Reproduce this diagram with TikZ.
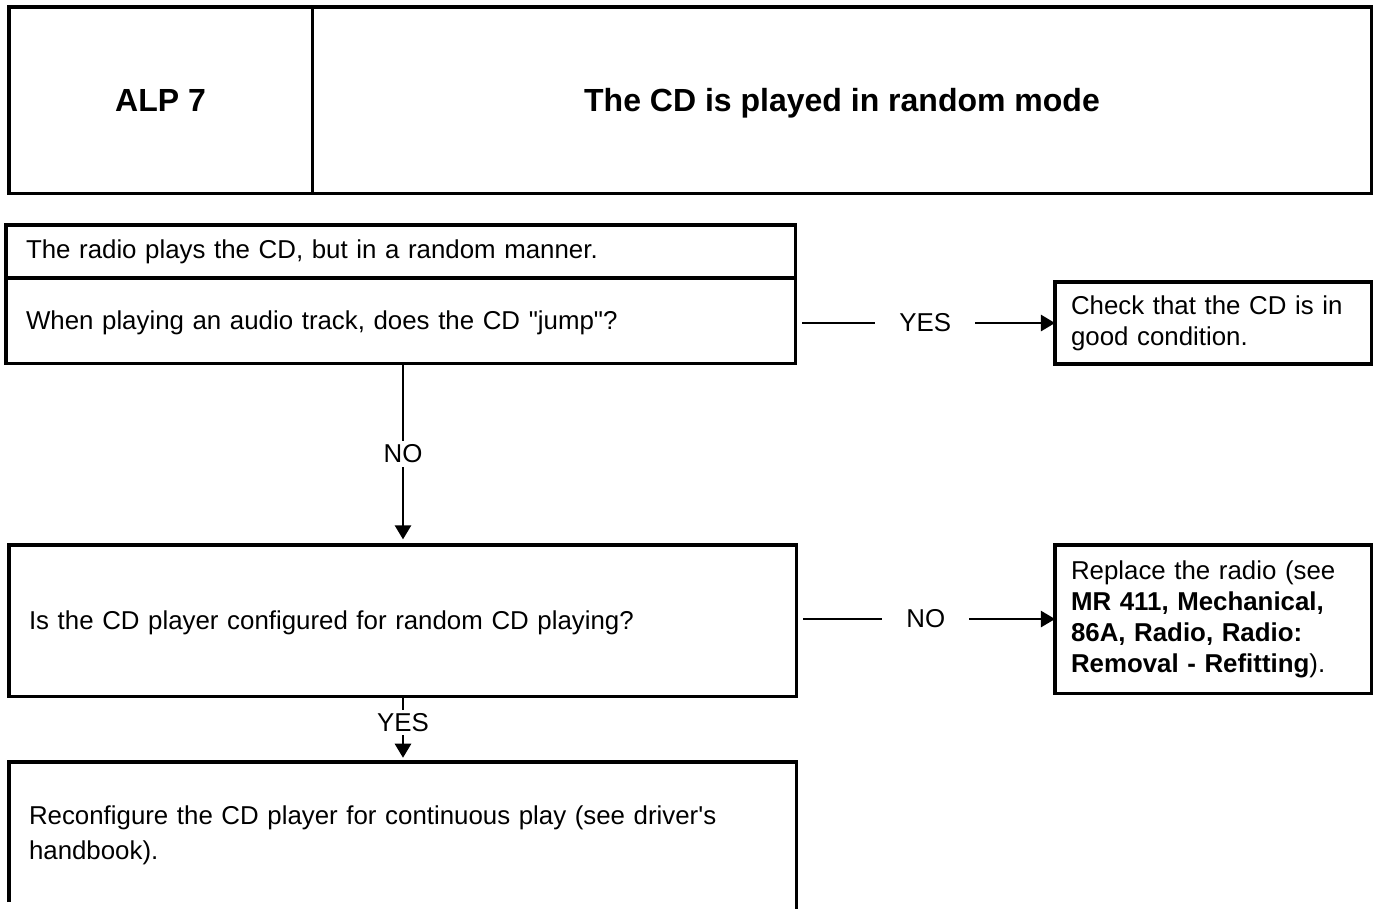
\documentclass[tikz,border=0pt]{standalone}
\usepackage{fontspec}
\setmainfont{Liberation Sans}
\usetikzlibrary{shapes,arrows.meta}

\begin{document}
\begin{tikzpicture}[x=0.01cm, y=-0.01cm, shorten <=2pt]%
  \tikzset{normal arrow/.style={draw,-{Triangle[length=4pt,width=4.6pt]},line width=0.6pt,black}}
  \tikzset{box/.style={draw, rectangle, line width=0.9pt, inner ysep=0pt, outer sep=0pt, align=left}}
  \tikzset{head/.style={box, text depth=0pt, font=\fontsize{9.1}{11}\selectfont\bfseries}}
  \tikzset{answer/.style={fill=white, inner xsep=0.24cm, inner ysep=1pt}}
  \tikzset{vanswer/.style={fill=white, inner sep=1pt}}
  \tikzstyle{every node}=[font=\fontsize{7.35}{8.8}\selectfont]
  \useasboundingbox (0,0) rectangle (1375,909);

  % header
  \node[head, anchor=north west, minimum width=3.03cm, minimum height=1.86cm] at (9,7) (ALP) {ALP 7};
  \node[head, anchor=north west, minimum width=10.59cm, minimum height=1.86cm] at (ALP.north east) (Title) {The CD is played in random mode};

  % first test
  \node[box, anchor=north west, text width=7.49cm, inner xsep=0.2cm, minimum height=0.53cm] at (6,225) (Q1a) {The radio plays the CD, but in a random manner.};
  \node[box, anchor=north west, text width=7.49cm, inner xsep=0.2cm, minimum height=0.85cm, text depth=0pt] at (Q1a.south west) (Q1) {When playing an audio track, does the CD \textquotedbl jump\textquotedbl?};
  \node[box, anchor=north west, text width=2.84cm, inner xsep=0.16cm, minimum height=0.82cm] at (1055,282) (Check) {Check that the CD is in\\ good condition.};

  % second test
  \node[box, anchor=north west, text width=7.47cm, inner xsep=0.2cm, minimum height=1.51cm, text depth=0pt] at (9,545) (Q2) {Is the CD player configured for random CD playing?};
  \node[box, anchor=north west, text width=2.84cm, inner xsep=0.16cm, minimum height=1.48cm] at (1055,545) (Replace) {Replace the radio (see\\ \textbf{MR 411, Mechanical,}\\ \textbf{86A, Radio, Radio:}\\ \textbf{Removal - Refitting}).};

  % repair, cut off at the bottom of the page
  \node[anchor=north west, text width=7.47cm, inner xsep=0.2cm, inner ysep=0pt, outer sep=0pt, minimum height=1.47cm, align=left, font=\fontsize{7.35}{10}\selectfont] at (9,762) (Fix) {Reconfigure the CD player for continuous play (see driver\textquotesingle s\\ handbook).};
  \draw[line width=0.9pt] (Fix.south west) |- (Fix.north east) -- (Fix.south east);

  \path[normal arrow] (Q1.east |- Check.west) -- node[answer] {YES} (Check.west);
  \path[normal arrow] (Q2.east |- Replace.west) -- node[answer] {NO} (Replace.west);
  \path[normal arrow, shorten <=0pt, shorten >=1.6pt] (Q1.south -| 403,0) -- node[vanswer, pos=0.5] {NO} (Q2.north -| 403,0);
  \path[normal arrow, shorten <=0pt, shorten >=1.2pt] (Q2.south -| 403,0) -- node[vanswer, pos=0.4] {YES} (Fix.north -| 403,0);
\end{tikzpicture}
\end{document}
